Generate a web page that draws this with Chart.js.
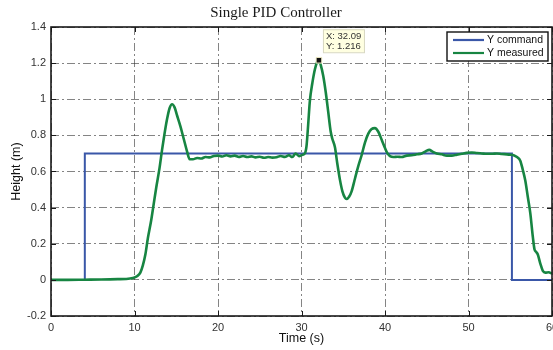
<!DOCTYPE html>
<html>
<head>
<meta charset="utf-8">
<script src="https://cdn.jsdelivr.net/npm/chart.js@4.4.1/dist/chart.umd.min.js"></script>
<style>
  html, body { margin: 0; padding: 0; background: #fff; overflow: hidden; }
  #wrap { width: 553px; height: 350px; overflow: hidden; }
</style>
</head>
<body>
<div id="wrap"><canvas id="myChart" width="600" height="350"></canvas></div>
<script>
// step command
const commandTime = [0, 4.05, 4.05, 55.2, 55.2, 60];
const commandHeight = [0, 0, 0.7, 0.7, 0, 0];

const measuredTime = [
  0, 2, 4, 6, 8, 9, 9.8, 10.3, 10.7, 11.0, 11.3, 11.6, 12.0, 12.3, 12.6, 13.0, 13.3, 13.6, 13.9, 14.2,
  14.5, 14.8, 15.1, 15.5, 15.9, 16.3, 16.6, 17.0, 17.5, 18.0, 18.5, 19.0, 19.5, 20.0, 20.5, 21.0,
  21.5, 22.0, 22.5, 23.0, 23.5, 24.0, 24.5, 25.0, 25.5, 26.0, 26.5, 27.0, 27.5, 28.0, 28.5, 28.9,
  29.3, 29.7, 30.1, 30.4, 30.6, 30.8, 31.0, 31.3, 31.6, 31.9, 32.09, 32.3, 32.6, 32.9, 33.2, 33.5,
  33.7, 34.0, 34.3, 34.6, 34.9, 35.2, 35.4, 35.7, 36.0, 36.4, 36.8, 37.2, 37.6, 38.0, 38.4, 38.8,
  39.2, 39.6, 40.0, 40.3, 40.6, 41.0, 41.5, 42.0, 42.6, 43.2, 43.8, 44.4, 44.9, 45.3, 45.7, 46.2,
  46.8, 47.4, 48.0, 48.6, 49.2, 49.8, 50.4, 51.0, 51.6, 52.2, 52.8, 53.4, 54.0, 54.6, 55.0, 55.4,
  55.8, 56.2, 56.5, 56.8, 57.1, 57.4, 57.7, 57.9, 58.1, 58.3, 58.6, 58.9, 59.2, 59.6, 60.0
];
const measuredHeight = [
  0, 0, 0.001, 0.002, 0.004, 0.005, 0.01, 0.02, 0.04, 0.08, 0.14, 0.23, 0.33, 0.42, 0.51, 0.62, 0.72, 0.81, 0.89, 0.95,
  0.972, 0.955, 0.91, 0.85, 0.78, 0.71, 0.668, 0.668, 0.675, 0.672, 0.68, 0.678, 0.686, 0.688, 0.683, 0.69,
  0.684, 0.688, 0.681, 0.686, 0.68, 0.684, 0.678, 0.682, 0.676, 0.68, 0.677, 0.679, 0.686, 0.681, 0.69, 0.68,
  0.70, 0.685, 0.692, 0.70, 0.74, 0.86, 0.99, 1.09, 1.165, 1.21, 1.216, 1.19, 1.13, 1.04, 0.93, 0.82,
  0.78, 0.735, 0.64, 0.555, 0.49, 0.455, 0.448, 0.46, 0.49, 0.56, 0.63, 0.69, 0.76, 0.81, 0.835, 0.84,
  0.82, 0.776, 0.73, 0.70, 0.685, 0.68, 0.682, 0.68, 0.688, 0.69, 0.695, 0.70, 0.712, 0.72, 0.71, 0.70,
  0.695, 0.688, 0.688, 0.693, 0.698, 0.703, 0.705, 0.702, 0.70, 0.698, 0.698, 0.70, 0.697, 0.695, 0.693, 0.69,
  0.68, 0.66, 0.61, 0.55, 0.46, 0.37, 0.24, 0.17, 0.155, 0.14, 0.09, 0.05, 0.04, 0.042, 0.035
];

// data cursor
const tipX = 32.09;
const tipY = 1.216;

const xTicks = [0, 10, 20, 30, 40, 50, 60];
const yTicks = [-0.2, 0, 0.2, 0.4, 0.6, 0.8, 1, 1.2, 1.4];

const sans = '"Liberation Sans", Arial, Helvetica, sans-serif';

// frame, inward ticks, legend and datatip drawn on top of the plot
const matlabBits = {
  id: "matlabBits",
  afterDatasetsDraw(chart) {
    const ctx = chart.ctx;
    const a = chart.chartArea;
    const xs = chart.scales.x, ys = chart.scales.y;
    ctx.save();
    ctx.setLineDash([]);
    ctx.strokeStyle = "#1a1a1a";
    ctx.lineWidth = 1;
    xTicks.forEach((t) => {
      const px = Math.round(xs.getPixelForValue(t)) + 0.5;
      ctx.beginPath();
      ctx.moveTo(px, a.bottom); ctx.lineTo(px, a.bottom - 5);
      ctx.moveTo(px, a.top); ctx.lineTo(px, a.top + 5);
      ctx.stroke();
    });
    yTicks.forEach((t) => {
      const py = Math.round(ys.getPixelForValue(t)) + 0.5;
      ctx.beginPath();
      ctx.moveTo(a.left, py); ctx.lineTo(a.left + 5, py);
      ctx.moveTo(a.right, py); ctx.lineTo(a.right - 5, py);
      ctx.stroke();
    });
    ctx.lineWidth = 1.6;
    ctx.strokeRect(a.left, a.top, a.right - a.left, a.bottom - a.top);

    // legend
    const lx = a.right - 105, ly = a.top + 5, lw = 101, lh = 29;
    ctx.fillStyle = "#fff";
    ctx.fillRect(lx, ly, lw, lh);
    ctx.lineWidth = 1.4;
    ctx.strokeStyle = "#111";
    ctx.strokeRect(lx, ly, lw, lh);
    ctx.font = "10.5px " + sans;
    ctx.textBaseline = "middle";
    ctx.textAlign = "left";
    [0, 1].forEach((i) => {
      const ds = chart.data.datasets[i];
      const yy = ly + 8 + i * 13;
      ctx.strokeStyle = ds.borderColor;
      ctx.lineWidth = 2.2;
      ctx.beginPath();
      ctx.moveTo(lx + 6, yy); ctx.lineTo(lx + 37, yy);
      ctx.stroke();
      ctx.fillStyle = "#111";
      ctx.fillText(ds.label, lx + 40, yy + 0.5);
    });

    // datatip box
    const px = xs.getPixelForValue(tipX), py = ys.getPixelForValue(tipY);
    const bx = px + 4, by = py - 31, bw = 41, bh = 23;
    ctx.fillStyle = "#ffffe1";
    ctx.fillRect(bx, by, bw, bh);
    ctx.strokeStyle = "#d8d8c0";
    ctx.lineWidth = 1;
    ctx.strokeRect(bx + 0.5, by + 0.5, bw, bh);
    ctx.fillStyle = "#333";
    ctx.font = "9.5px " + sans;
    ctx.fillText("X: " + tipX.toFixed(2), bx + 3, by + 7);
    ctx.fillText("Y: " + tipY.toFixed(3), bx + 3, by + 17);
    ctx.restore();
  },
};

const ctx = document.getElementById("myChart").getContext("2d");
const myChart = new Chart(ctx, {
  type: "line",
  data: {
    datasets: [
      {
        label: "Y command",
        data: commandTime.map((t, i) => ({ x: t, y: commandHeight[i] })),
        borderColor: "#3a57a8",
        borderWidth: 2,
        pointRadius: 0,
        tension: 0,
        order: 2,
      },
      {
        label: "Y measured",
        data: measuredTime.map((t, i) => ({ x: t, y: measuredHeight[i] })),
        borderColor: "#178542",
        borderWidth: 2.6,
        pointRadius: 0,
        cubicInterpolationMode: "monotone",
        order: 1,
      },
      {
        label: "tip",
        data: [{ x: tipX, y: tipY }],
        showLine: false,
        pointStyle: "rect",
        pointRadius: 4,
        backgroundColor: "#111",
        borderColor: "#f4f0c8",
        borderWidth: 1,
        order: 0,
      },
    ],
  },
  options: {
    responsive: false,
    animation: false,
    devicePixelRatio: 1,
    layout: { padding: { top: 0, left: 0, right: 48, bottom: 0 } },
    plugins: {
      legend: { display: false },
      tooltip: { enabled: false },
      title: {
        display: true,
        text: "Single PID Controller",
        color: "#1a1a1a",
        font: { family: '"Liberation Serif", "Times New Roman", serif', size: 15, weight: "normal" },
        padding: { top: 4, bottom: 5 },
      },
    },
    scales: {
      x: {
        type: "linear",
        min: 0,
        max: 60,
        afterBuildTicks: (s) => { s.ticks = xTicks.map((v) => ({ value: v })); },
        afterFit: (s) => { s.height = 34; },
        ticks: { color: "#333", font: { family: sans, size: 11 }, padding: 5, maxRotation: 0, autoSkip: false },
        grid: { color: "rgba(50,50,50,0.6)", lineWidth: 1, drawTicks: false },
        border: { display: false, dash: [8, 3, 2, 3] },
        title: { display: true, text: "Time (s)", color: "#111", font: { family: sans, size: 12.5 }, padding: { top: 0, bottom: 4 } },
      },
      y: {
        type: "linear",
        min: -0.2,
        max: 1.4,
        afterBuildTicks: (s) => { s.ticks = yTicks.map((v) => ({ value: v })); },
        afterFit: (s) => { s.width = 51; },
        ticks: { color: "#333", font: { family: sans, size: 11 }, padding: 5, callback: (v) => String(Math.round(v * 10) / 10) },
        grid: { color: "rgba(50,50,50,0.6)", lineWidth: 1, drawTicks: false },
        border: { display: false, dash: [8, 3, 2, 3] },
        title: { display: true, text: "Height (m)", color: "#111", font: { family: sans, size: 12.5 }, padding: { top: 9, bottom: 0 } },
      },
    },
  },
  plugins: [matlabBits],
});
</script>
</body>
</html>
